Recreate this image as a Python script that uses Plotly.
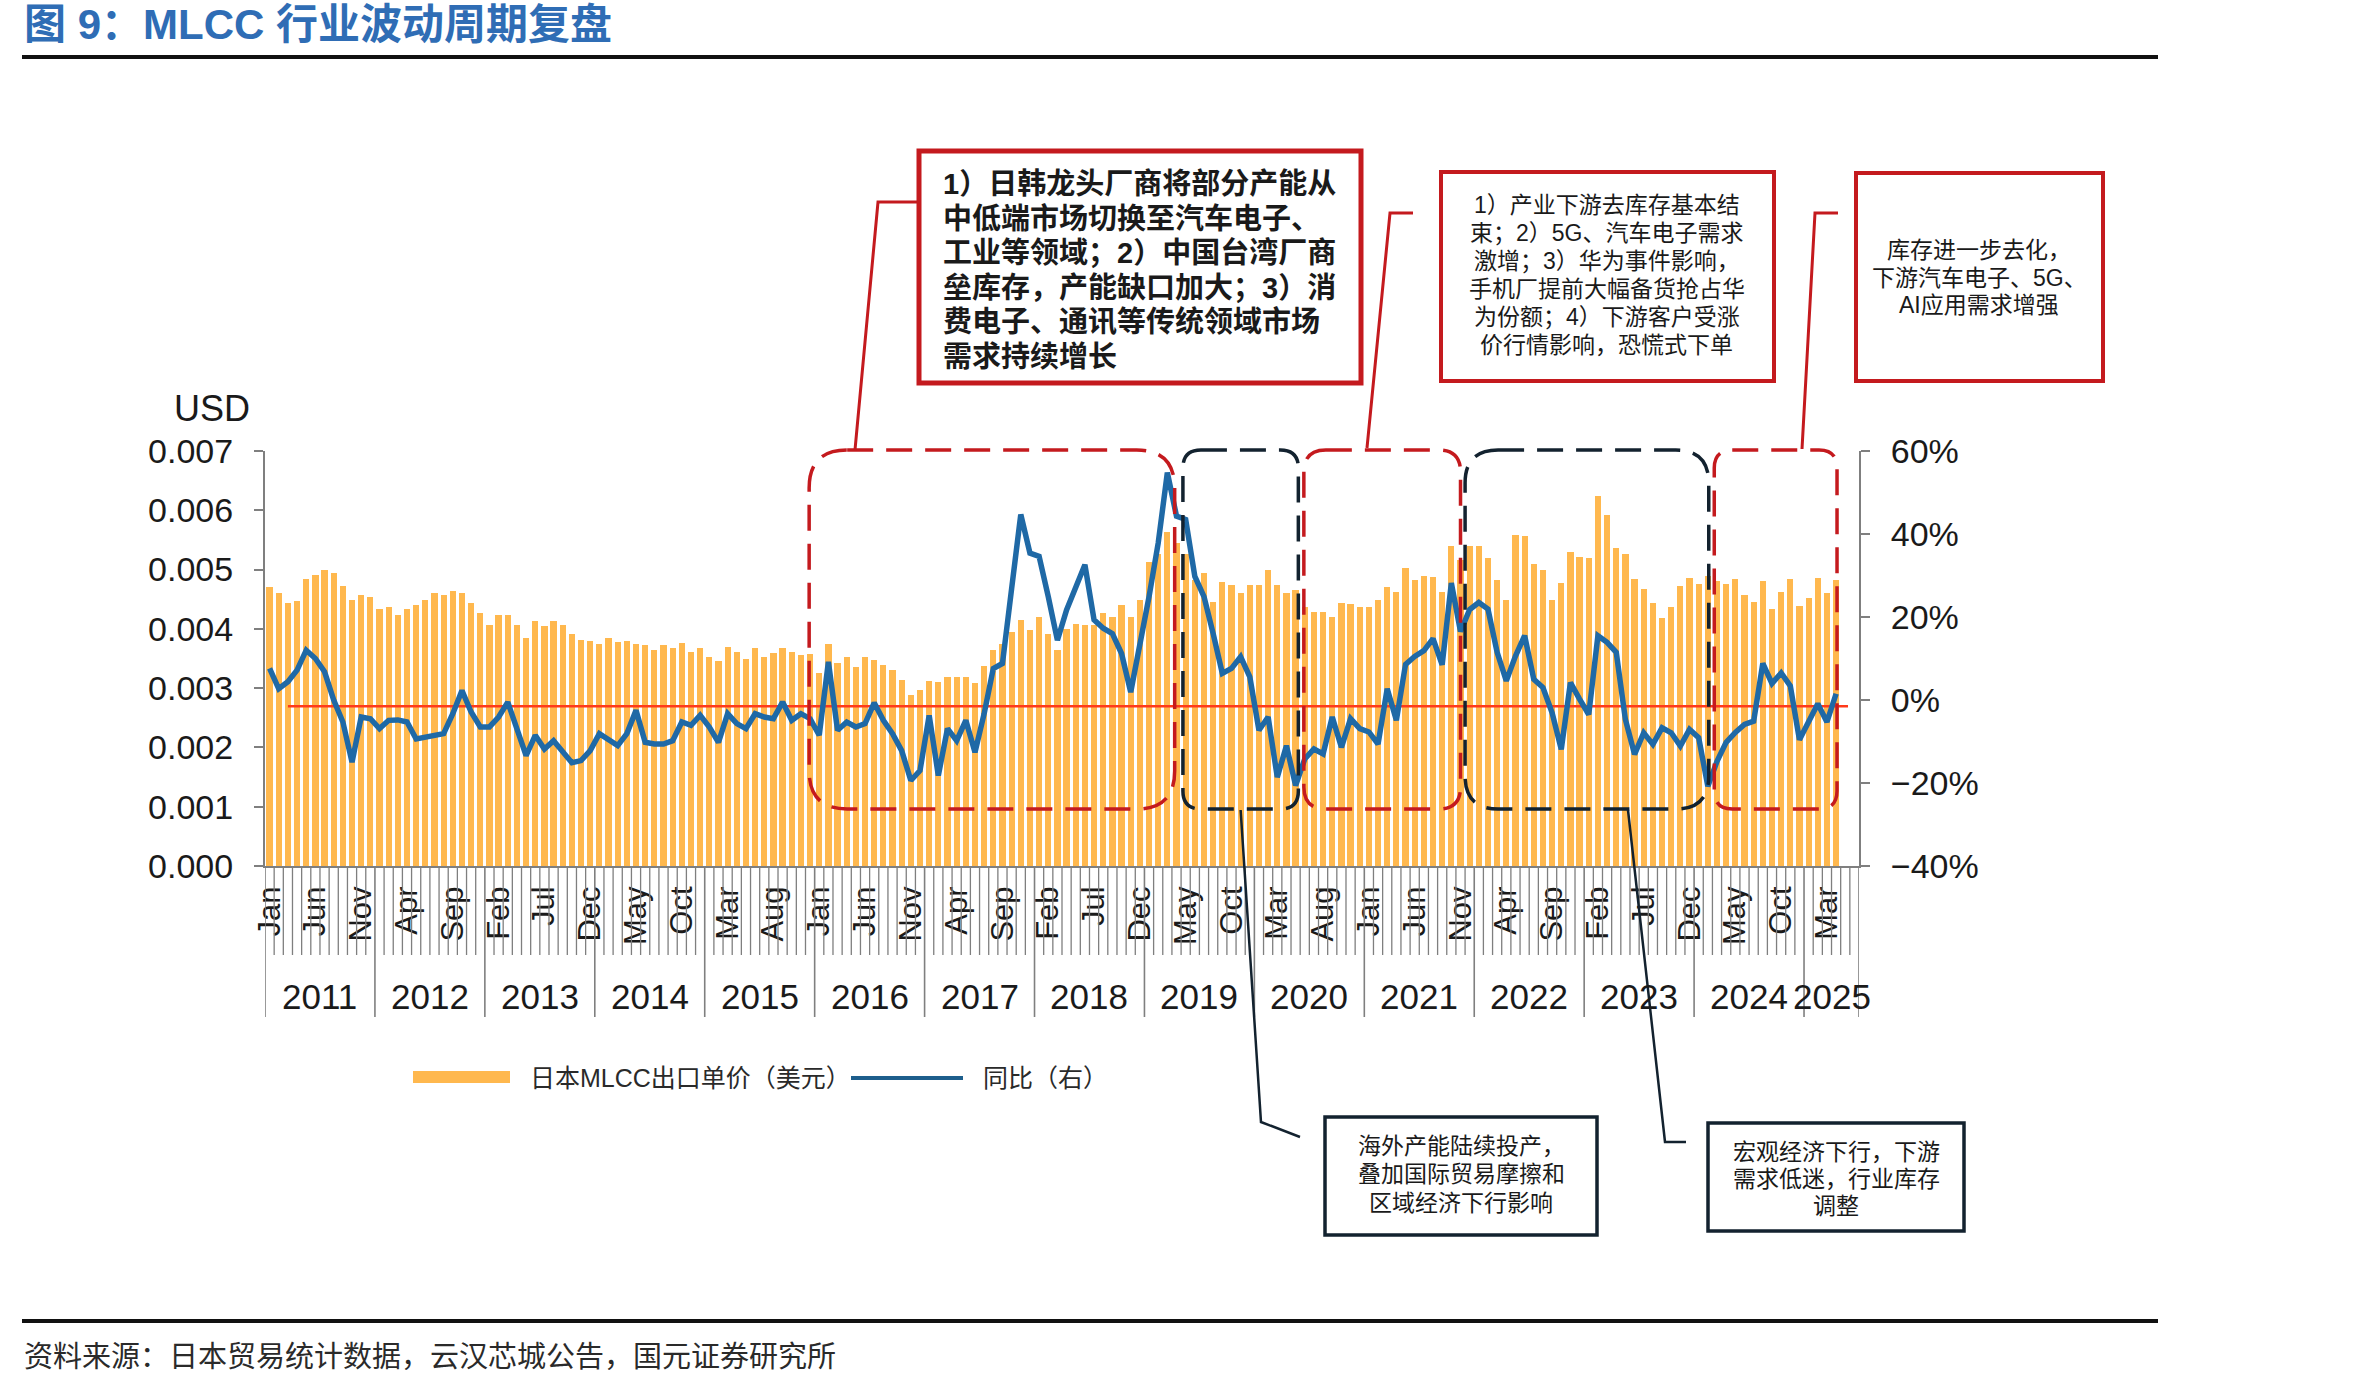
import plotly.graph_objects as go

W, H = 2374, 1387

# ---------------- data ----------------
MONTH_ABBR = ["Jan", "Feb", "Mar", "Apr", "May", "Jun", "Jul", "Aug", "Sep", "Oct", "Nov", "Dec"]
YEARS = list(range(2011, 2026))
N_SLOTS = 174          # category axis: Jan 2011 .. Jun 2025
LABEL_EVERY = 5        # month label shown every 5 months

# Japan MLCC export unit price (USD), Jan 2011 .. Apr 2025
PRICE = [
    0.00470, 0.00460, 0.00444, 0.00447, 0.00484, 0.00491, 0.00500, 0.00494, 0.00473, 0.00449, 0.00457, 0.00453,
    0.00433, 0.00437, 0.00424, 0.00433, 0.00440, 0.00449, 0.00460, 0.00457, 0.00464, 0.00460, 0.00444, 0.00426,
    0.00406, 0.00423, 0.00423, 0.00406, 0.00384, 0.00413, 0.00405, 0.00414, 0.00406, 0.00391, 0.00381, 0.00380,
    0.00375, 0.00384, 0.00378, 0.00380, 0.00374, 0.00373, 0.00364, 0.00373, 0.00367, 0.00376, 0.00361, 0.00367,
    0.00353, 0.00346, 0.00370, 0.00361, 0.00350, 0.00367, 0.00353, 0.00359, 0.00368, 0.00361, 0.00356, 0.00358,
    0.00325, 0.00375, 0.00343, 0.00352, 0.00335, 0.00353, 0.00347, 0.00339, 0.00331, 0.00313, 0.00288, 0.00297,
    0.00312, 0.00311, 0.00319, 0.00318, 0.00319, 0.00308, 0.00337, 0.00364, 0.00375, 0.00395, 0.00415, 0.00398,
    0.00420, 0.00392, 0.00364, 0.00400, 0.00409, 0.00406, 0.00406, 0.00426, 0.00420, 0.00440, 0.00420, 0.00449,
    0.00512, 0.00527, 0.00564, 0.00544, 0.00527, 0.00482, 0.00495, 0.00446, 0.00479, 0.00474, 0.00460, 0.00474,
    0.00474, 0.00500, 0.00474, 0.00460, 0.00465, 0.00437, 0.00429, 0.00429, 0.00420, 0.00444, 0.00442, 0.00437,
    0.00437, 0.00449, 0.00471, 0.00463, 0.00502, 0.00483, 0.00490, 0.00488, 0.00463, 0.00539, 0.00516, 0.00540,
    0.00540, 0.00519, 0.00483, 0.00449, 0.00558, 0.00557, 0.00510, 0.00499, 0.00449, 0.00477, 0.00530, 0.00522,
    0.00519, 0.00624, 0.00592, 0.00536, 0.00527, 0.00484, 0.00468, 0.00444, 0.00419, 0.00437, 0.00472, 0.00485,
    0.00476, 0.00490, 0.00481, 0.00476, 0.00484, 0.00457, 0.00446, 0.00481, 0.00433, 0.00463, 0.00484, 0.00438,
    0.00452, 0.00485, 0.00461, 0.00482,
]

# Year-on-year change (%), right axis
YOY = [
    7.6, 2.7, 4.4, 7.2, 12.0, 10.0, 6.8, 0.0, -5.3, -15.0, -4.1, -4.5,
    -6.9, -4.9, -4.8, -5.3, -9.4, -9.0, -8.8, -8.1, -3.3, 2.3, -2.9, -6.5,
    -6.5, -4.1, -0.5, -6.5, -13.4, -8.5, -11.8, -9.8, -12.3, -15.1, -14.6, -12.2,
    -8.1, -9.4, -11.0, -8.1, -2.5, -10.2, -10.6, -10.6, -9.8, -5.3, -6.1, -3.7,
    -6.5, -10.2, -3.3, -5.7, -6.9, -3.3, -4.1, -4.5, -0.5, -4.9, -3.3, -4.5,
    -8.5, 9.2, -7.3, -5.3, -6.5, -5.7, -0.7, -4.9, -8.1, -12.2, -19.4, -17.0,
    -3.7, -18.2, -6.9, -9.8, -4.9, -12.6, -3.3, 7.6, 8.8, 26.8, 44.7, 35.4,
    34.6, 24.9, 14.4, 21.7, 27.3, 32.6, 19.3, 17.3, 16.0, 11.2, 1.9, 13.2,
    24.9, 37.8, 54.8, 44.3, 43.5, 29.8, 24.9, 16.0, 6.4, 7.6, 10.4, 5.6,
    -7.3, -4.1, -18.6, -11.0, -20.6, -14.2, -11.8, -13.0, -4.1, -11.4, -4.5, -6.9,
    -7.7, -10.6, 2.7, -4.9, 8.6, 10.5, 11.9, 14.8, 8.5, 28.2, 16.5, 21.8,
    23.5, 21.9, 11.5, 4.6, 10.6, 15.5, 5.0, 3.0, -3.1, -11.9, 4.2, 0.2,
    -3.5, 15.5, 13.9, 11.5, -4.7, -13.1, -7.9, -10.7, -6.7, -7.9, -11.1, -7.1,
    -9.1, -20.8, -14.8, -10.2, -7.8, -5.9, -5.1, 8.8, 4.0, 6.5, 3.4, -9.6,
    -5.1, -0.9, -5.3, 1.5,
]

YOY_REF = -1.5            # horizontal reference line (right axis, %)
YOY_REF_SPAN = (2.0, 172.3)

TITLE = "图 9：MLCC 行业波动周期复盘"
SOURCE = "资料来源：日本贸易统计数据，云汉芯城公告，国元证券研究所"
SERIES_NAMES = ["日本MLCC出口单价（美元）", "同比（右）"]
Y_UNIT = "USD"

BOX1_LINES = ["1）日韩龙头厂商将部分产能从", "中低端市场切换至汽车电子、", "工业等领域；2）中国台湾厂商",
              "垒库存，产能缺口加大；3）消", "费电子、通讯等传统领域市场", "需求持续增长"]
BOX2_LINES = ["1）产业下游去库存基本结", "束；2）5G、汽车电子需求", "激增；3）华为事件影响，",
              "手机厂提前大幅备货抢占华", "为份额；4）下游客户受涨", "价行情影响，恐慌式下单"]
BOX3_LINES = ["库存进一步去化，", "下游汽车电子、5G、", "AI应用需求增强"]
BOX4_LINES = ["海外产能陆续投产，", "叠加国际贸易摩擦和", "区域经济下行影响"]
BOX5_LINES = ["宏观经济下行，下游", "需求低迷，行业库存", "调整"]

# cycle phases (start / end month position on the category axis)
PHASES = [(58.9, 98.8, "up"), (99.7, 112.3, "down"), (112.9, 130.0, "up"),
          (130.5, 157.1, "down"), (157.7, 171.1, "up")]

# ---------------- geometry / style ----------------
PX0, PX1, PY0, PY1 = 265, 1859, 451, 866
RED = "#C41A1E"
DARK = "#13222F"
BAR = "#FFB84E"
LINE = "#1F69A6"
GRAY = "#7F7F7F"
TXT = "#1A1A1A"
LAT = "Liberation Sans, Noto Sans CJK SC, sans-serif"
CJK = "Liberation Sans, Noto Sans CJK SC, sans-serif"


def fx(p):
    return p / W


def fy(p):
    return 1 - p / H


def mx(xd):
    return PX0 + (xd + 0.5) * (PX1 - PX0) / N_SLOTS


idx = list(range(len(PRICE)))

fig = go.Figure()
fig.add_trace(go.Bar(x=idx, y=PRICE, name=SERIES_NAMES[0], marker=dict(color=BAR, line=dict(width=0)),
                     width=0.68, yaxis="y"))
fig.add_trace(go.Scatter(x=list(YOY_REF_SPAN), y=[YOY_REF, YOY_REF], mode="lines", yaxis="y2",
                         line=dict(color="#FF3A1A", width=2.5), showlegend=False))
fig.add_trace(go.Scatter(x=idx, y=YOY, name=SERIES_NAMES[1], mode="lines", yaxis="y2",
                         line=dict(color=LINE, width=5.5)))

shapes = []
annotations = []

# month boundary ticks and year separators
for k in range(N_SLOTS + 1):
    is_year = (k % 12 == 0) or k == N_SLOTS
    shapes.append(dict(type="line", xref="x", yref="paper", x0=k - 0.5, x1=k - 0.5,
                       y0=fy(PY1), y1=fy(1017 if is_year else 955),
                       line=dict(color=GRAY, width=1.6 if is_year else 1.3), layer="above"))

# year labels
for j, yr in enumerate(YEARS):
    s = j * 12
    e = min(s + 12, N_SLOTS)
    annotations.append(dict(x=(s + e - 1) / 2, y=fy(996), xref="x", yref="paper", text=str(yr),
                            showarrow=False, xanchor="center", yanchor="middle",
                            font=dict(family=LAT, size=35, color=TXT)))


def rrect_path(x0, y0, x1, y1, r):
    pts = []

    def P(x, y):
        return f"{fx(x):.5f},{fy(y):.5f}"
    pts.append("M" + P(x0 + r, y0))
    pts.append("L" + P(x1 - r, y0))
    pts.append("Q" + P(x1, y0) + " " + P(x1, y0 + r))
    pts.append("L" + P(x1, y1 - r))
    pts.append("Q" + P(x1, y1) + " " + P(x1 - r, y1))
    pts.append("L" + P(x0 + r, y1))
    pts.append("Q" + P(x0, y1) + " " + P(x0, y1 - r))
    pts.append("L" + P(x0, y0 + r))
    pts.append("Q" + P(x0, y0) + " " + P(x0 + r, y0))
    pts.append("Z")
    return " ".join(pts)


RADII = [38, 18, 22, 33, 18]
for (a, b, kind), r in zip(PHASES, RADII):
    col = RED if kind == "up" else DARK
    shapes.append(dict(type="path", xref="paper", yref="paper",
                       path=rrect_path(mx(a), 450, mx(b), 809, r),
                       line=dict(color=col, width=3.5, dash="26px,13px"), layer="above"))


def poly(points, color, width):
    p = "M" + " L".join(f"{fx(x):.5f},{fy(y):.5f}" for x, y in points)
    return dict(type="path", xref="paper", yref="paper", path=p,
                line=dict(color=color, width=width), layer="above")


# connectors
shapes.append(poly([(919, 202), (878, 202), (855, 450)], RED, 3))
shapes.append(poly([(1413, 213), (1390, 213), (1367, 448)], RED, 3))
shapes.append(poly([(1838, 213), (1815, 213), (1802, 449)], RED, 3))
shapes.append(poly([(mx((PHASES[1][0] + PHASES[1][1]) / 2), 810), (1261, 1122), (1300, 1137)], DARK, 2.5))
shapes.append(poly([(1628, 810), (1665, 1142), (1686, 1142)], DARK, 2.5))


def box(x0, y0, x1, y1, color, width):
    shapes.append(dict(type="rect", xref="paper", yref="paper", x0=fx(x0), x1=fx(x1), y0=fy(y1), y1=fy(y0),
                       line=dict(color=color, width=width), fillcolor="white", layer="above"))


box(919, 151, 1361, 383, RED, 5)
box(1441, 172, 1774, 381, RED, 4)
box(1856, 173, 2103, 381, RED, 4)
box(1325, 1117, 1597, 1235, DARK, 3.5)
box(1708, 1123, 1964, 1231, DARK, 3.5)


def lines_text(lines, x, ys, size, anchor="center", bold=False):
    for t, yy in zip(lines, ys):
        annotations.append(dict(x=fx(x), y=fy(yy), xref="paper", yref="paper",
                                text=f"<b>{t}</b>" if bold else t, showarrow=False,
                                xanchor=anchor, yanchor="middle",
                                font=dict(family=CJK, size=size, color=TXT)))


lines_text(BOX1_LINES, 941, [184, 219, 253, 288, 322, 357], 29, anchor="left", bold=True)
lines_text(BOX2_LINES, 1607, [205, 233, 261, 289, 317, 345], 23)
lines_text(BOX3_LINES, 1979, [250, 278, 305], 23)
lines_text(BOX4_LINES, 1461, [1146, 1174, 1203], 23)
lines_text(BOX5_LINES, 1836, [1152, 1179, 1206], 23)

# title, rules, source
annotations.append(dict(x=fx(22), y=fy(24), xref="paper", yref="paper", text=f"<b>{TITLE}</b>",
                        showarrow=False, xanchor="left", yanchor="middle",
                        font=dict(family=CJK, size=42, color="#2F6DB5")))
shapes.append(dict(type="line", xref="paper", yref="paper", x0=fx(22), x1=fx(2158), y0=fy(57), y1=fy(57),
                   line=dict(color="#111111", width=4)))
shapes.append(dict(type="line", xref="paper", yref="paper", x0=fx(22), x1=fx(2158), y0=fy(1321), y1=fy(1321),
                   line=dict(color="#111111", width=4)))
annotations.append(dict(x=fx(22), y=fy(1357), xref="paper", yref="paper", text=SOURCE,
                        showarrow=False, xanchor="left", yanchor="middle",
                        font=dict(family=CJK, size=29, color="#2A2A2A")))

# y unit
annotations.append(dict(x=fx(212), y=fy(409), xref="paper", yref="paper", text=Y_UNIT,
                        showarrow=False, xanchor="center", yanchor="middle",
                        font=dict(family=LAT, size=36, color=TXT)))

# legend (drawn manually)
shapes.append(dict(type="rect", xref="paper", yref="paper", x0=fx(413), x1=fx(510), y0=fy(1083), y1=fy(1071),
                   line=dict(width=0), fillcolor=BAR))
shapes.append(dict(type="line", xref="paper", yref="paper", x0=fx(851), x1=fx(963), y0=fy(1078), y1=fy(1078),
                   line=dict(color="#1D5E8C", width=4)))
annotations.append(dict(x=fx(528), y=fy(1078), xref="paper", yref="paper", text=SERIES_NAMES[0],
                        showarrow=False, xanchor="left", yanchor="middle",
                        font=dict(family=CJK, size=25, color="#2A2A2A")))
annotations.append(dict(x=fx(981), y=fy(1078), xref="paper", yref="paper", text=SERIES_NAMES[1],
                        showarrow=False, xanchor="left", yanchor="middle",
                        font=dict(family=CJK, size=25, color="#2A2A2A")))

tickvals = list(range(0, N_SLOTS, LABEL_EVERY))
ticktext = [MONTH_ABBR[i % 12] for i in tickvals]

fig.update_layout(
    width=W, height=H, autosize=False,
    margin=dict(l=0, r=0, t=0, b=0, pad=0),
    paper_bgcolor="white", plot_bgcolor="white",
    showlegend=False, bargap=0,
    xaxis=dict(domain=[fx(PX0), fx(PX1)], range=[-0.5, N_SLOTS - 0.5], tickmode="array",
               tickvals=tickvals, ticktext=ticktext, tickangle=-90, ticks="",
               showline=True, linecolor=GRAY, linewidth=2, showgrid=False, zeroline=False,
               tickfont=dict(family=LAT, size=31, color=TXT), ticklabelstandoff=6, automargin=False),
    yaxis=dict(domain=[fy(PY1), fy(PY0)], range=[0, 0.007], dtick=0.001, tickformat=".3f",
               ticks="outside", ticklen=9, tickwidth=2, tickcolor=GRAY, showline=True, linecolor=GRAY,
               linewidth=2, showgrid=False, zeroline=False, ticklabelstandoff=14,
               tickfont=dict(family=LAT, size=34, color=TXT), automargin=False),
    yaxis2=dict(overlaying="y", side="right", anchor="x", range=[-40, 60], dtick=20, ticksuffix="%",
                ticks="outside", ticklen=9, tickwidth=2, tickcolor=GRAY, showline=True, linecolor=GRAY,
                linewidth=2, showgrid=False, zeroline=False, ticklabelstandoff=14,
                tickfont=dict(family=LAT, size=34, color=TXT), automargin=False),
    shapes=shapes, annotations=annotations,
)

fig.write_html("out.html")
